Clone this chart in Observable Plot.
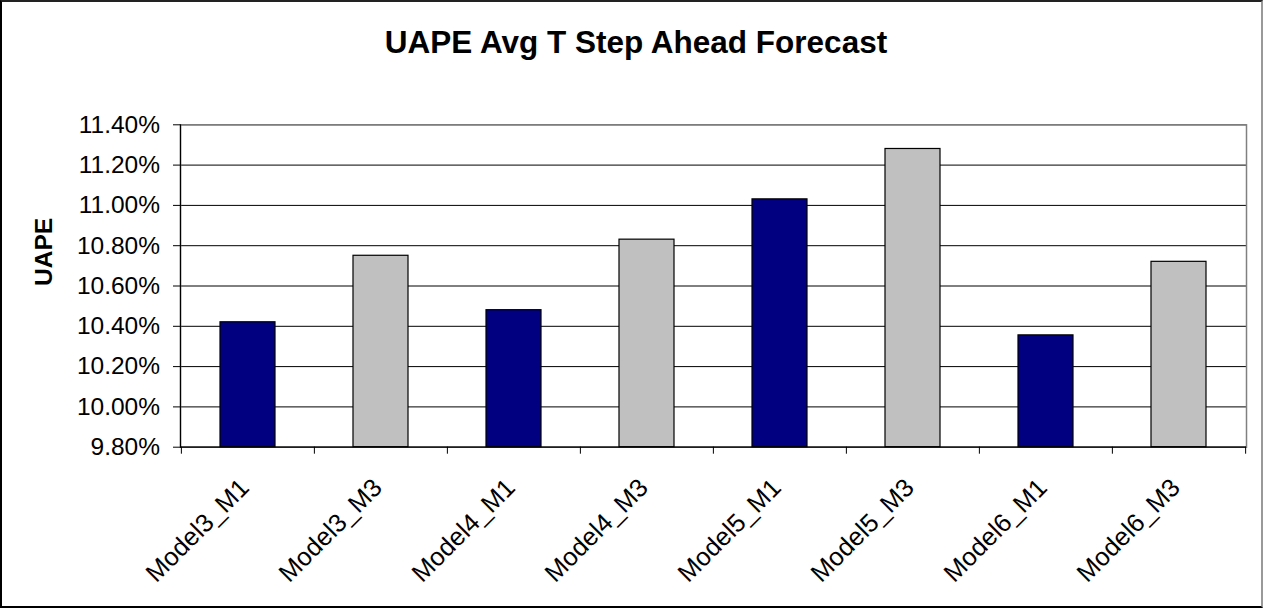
<!DOCTYPE html>
<html><head><meta charset="utf-8">
<script src="https://cdn.jsdelivr.net/npm/d3@7"></script>
<script src="https://cdn.jsdelivr.net/npm/@observablehq/plot@0.6"></script>
<style>
html,body{margin:0;padding:0;background:#fff;}
#wrap{position:relative;width:1263px;height:608px;overflow:hidden;font-family:"Liberation Sans",Arial,sans-serif;background:#fff;}
#title{height:70px;box-sizing:border-box;padding-top:26.5px;padding-left:9px;font-size:31.5px;line-height:31.5px;font-weight:bold;text-align:center;color:#000;white-space:nowrap;}
#border{position:absolute;left:0;top:0;width:1263px;height:608px;box-sizing:border-box;border:2px solid #000;border-top-color:#222;border-right-color:#999;pointer-events:none;}
#chart svg{display:block;}
</style></head><body>
<div id="wrap"><div id="title">UAPE Avg T Step Ahead Forecast</div><div id="chart"></div><div id="border"></div></div>
<script>
const categories = ["Model3_M1","Model3_M3","Model4_M1","Model4_M3","Model5_M1","Model5_M3","Model6_M1","Model6_M3"];
const values = [10.42, 10.75, 10.48, 10.83, 11.03, 11.28, 10.355, 10.72];
const seriesOf = ["M1","M3","M1","M3","M1","M3","M1","M3"];
const seriesNames = ["M1","M3"];
const seriesColors = ["#000080","#C0C0C0"];
const yTicks = [9.8, 10.0, 10.2, 10.4, 10.6, 10.8, 11.0, 11.2, 11.4];
const yLabel = "UAPE";

const data = categories.map((c, i) => ({category: c, value: values[i], series: seriesOf[i]}));

const W = 1263, H = 538;
const mL = 180, mR = 17, mT = 54.3, mB = 161.3;
const step = (W - mL - mR) / categories.length;
const yMin = yTicks[0];

const chart = Plot.plot({
  width: W, height: H,
  marginLeft: mL, marginRight: mR, marginTop: mT, marginBottom: mB,
  style: {fontFamily: '"Liberation Sans", Arial, sans-serif', fontSize: "24px", background: "#fff", color: "#000"},
  x: {domain: categories, paddingInner: 0.585, paddingOuter: 0.2925, axis: null},
  y: {domain: [yTicks[0], yTicks[yTicks.length - 1]], axis: null},
  color: {domain: seriesNames, range: seriesColors},
  marks: [
    Plot.gridY(yTicks, {stroke: "#000", strokeOpacity: 1, strokeWidth: 1}),
    Plot.frame({stroke: "#808080", strokeWidth: 1.5}),
    Plot.barY(data, {x: "category", y1: () => yMin, y2: "value", fill: "series", stroke: "#000", strokeWidth: 1.2}),
    Plot.ruleY([yMin], {stroke: "#000", strokeWidth: 1.2}),
    Plot.frame({anchor: "left", stroke: "#000", strokeWidth: 1.2}),
    Plot.ruleX(categories, {x: d => d, dx: -step / 2, y1: () => yMin, y2: () => yMin, insetBottom: -7, stroke: "#000"}),
    Plot.ruleX([categories[categories.length - 1]], {x: d => d, dx: step / 2, y1: () => yMin, y2: () => yMin, insetBottom: -7, stroke: "#000"}),
    Plot.axisY(yTicks, {anchor: "left", tickSize: 7, tickPadding: 13.5, tickFormat: d => d.toFixed(2) + "%", fontSize: 24.5, label: null, stroke: "#000"}),
    Plot.text(categories, {x: d => d, frameAnchor: "bottom", dy: 42, dx: 2.5, rotate: -45, textAnchor: "end", lineAnchor: "bottom", fontSize: 25.5, fill: "#000"}),
    Plot.text([yLabel], {frameAnchor: "left", dx: -136, rotate: -90, fontSize: 24.5, fontWeight: "bold", fill: "#000", lineAnchor: "middle"})
  ]
});
document.getElementById("chart").appendChild(chart);
</script>
</body></html>
